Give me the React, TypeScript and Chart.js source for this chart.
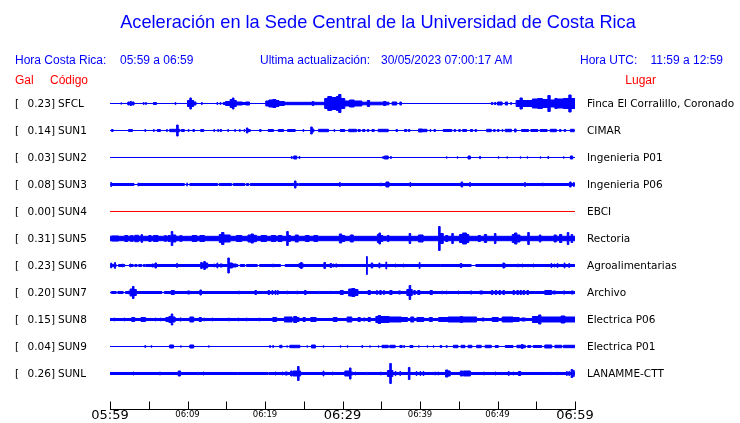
import React, { useEffect, useRef } from 'react';
import { Chart, registerables } from 'chart.js';

Chart.register(...registerables);

const TITLE = 'Aceleración en la Sede Central de la Universidad de Costa Rica';
const HEADER_LOCAL = ['Hora Costa Rica:', '05:59 a 06:59'];
const HEADER_UPDATE = ['Ultima actualización:', '30/05/2023 07:00:17 AM'];
const HEADER_UTC = ['Hora UTC:', '11:59 a 12:59'];
const COLUMN_HEADS = ['Gal', 'Código', 'Lugar'];

const CODES = ['SFCL', 'SUN1', 'SUN2', 'SUN3', 'SUN4', 'SUN5', 'SUN6', 'SUN7', 'SUN8', 'SUN9', 'SUNL'];
const GAL = [0.23, 0.14, 0.03, 0.08, 0.0, 0.31, 0.23, 0.2, 0.15, 0.04, 0.26];
const PLACES = [
  'Finca El Corralillo, Coronado', 'CIMAR', 'Ingenieria P01', 'Ingenieria P06', 'EBCI', 'Rectoria',
  'Agroalimentarias', 'Archivo', 'Electrica P06', 'Electrica P01', 'LANAMME-CTT',
];
// background (noise) half-amplitude of each trace
const BASE_AMP = [0, 0, 0, 1, 0, 2.2, 1, 1, 1, 0, 1];
const TRACE_COLORS = ['#0000ff', '#0000ff', '#0000ff', '#0000ff', '#ff0000', '#0000ff', '#0000ff', '#0000ff', '#0000ff', '#0000ff', '#0000ff'];

// time axis, minutes after 05:59
const T_MIN = 0;
const T_MAX = 60;
const TICK_MINUTES = [0, 5, 10, 15, 20, 25, 30, 35, 40, 45, 50, 55, 60];
const TICK_LABELS = ['05:59', '', '06:09', '', '06:19', '', '06:29', '', '06:39', '', '06:49', '', '06:59'];
const TICK_MAJOR = [true, false, false, false, false, false, true, false, false, false, false, false, true];

// envelope segments [start minute, end minute, half amplitude]
type Seg = [number, number, number];
const SFCL_BURSTS: Seg[] = [[1.4,1.5,0.7],[2.3,2.5,1.5],[2.6,2.8,2],[2.9,3.1,1.5],[4.3,4.4,1],[4.6,4.7,1],[5.6,6.0,1],[8.4,8.5,1],[10.0,10.3,3],[10.3,10.5,5.5],[10.5,10.8,3],[10.8,11.1,1.5],[11.8,11.9,1],[13.8,13.9,1],[14.2,14.3,1],[14.6,14.9,1],[14.9,15.5,2],[15.5,15.8,4],[15.8,16.0,5.5],[16.0,16.3,3],[16.3,17.1,1.5],[17.1,17.5,1],[17.5,18.0,1.5],[20.1,20.5,2.5],[20.5,21.0,3.5],[21.0,21.4,4],[21.4,21.8,3],[21.8,22.5,2],[22.5,26.1,1.2],[26.1,26.3,2],[26.3,27.7,1.2],[27.7,28.1,5],[28.1,28.6,7],[28.6,29.2,6],[29.2,29.5,7],[29.5,29.8,9],[29.8,30.3,5],[30.3,30.9,2.5],[30.9,31.5,3.5],[31.5,32.5,2.5],[32.5,33.2,1.3],[33.2,33.5,3],[33.5,35.3,1.3],[35.3,35.6,2],[35.6,36.0,1.3],[36.4,37.0,1.5],[37.4,37.6,1.5],[49.2,49.4,1],[49.6,49.8,1],[50.0,50.6,1.5],[51.0,51.3,1.5],[51.7,51.8,1],[52.4,52.9,3],[52.9,53.2,5.5],[53.2,54.5,3],[54.5,55.2,4.5],[55.2,55.8,5],[55.8,56.5,4],[56.5,56.8,8],[56.8,57.4,3.5],[57.4,57.7,5],[57.7,58.5,4.5],[58.5,59.2,5],[59.2,59.5,8.5],[59.5,60,5]];
const SUN1_BURSTS: Seg[] = [[0.2,0.4,1],[2.4,2.9,1],[4.5,4.6,1],[5.6,5.7,1],[6.1,6.5,1],[7.3,7.4,1],[7.7,8.6,1.2],[8.6,8.8,5.5],[8.8,9.0,1.2],[9.2,9.6,1],[10.1,10.2,1],[10.7,10.9,1],[11.7,12.1,1],[13.4,13.5,1],[13.9,14.0,1],[14.2,14.4,1],[15.2,15.3,1],[16.1,16.2,1],[16.7,16.8,1],[17.3,17.4,1],[17.6,17.8,2.5],[17.8,18.1,1],[19.3,19.5,1],[20.4,21.1,1],[21.7,22.4,1],[22.9,23.9,1],[24.9,25.0,1],[25.9,26.1,3.5],[26.1,26.3,1.5],[26.9,28.2,1.2],[28.9,29.0,1],[29.7,30.3,1],[30.8,31.8,1.2],[32.0,32.3,1],[32.6,32.9,1],[33.2,33.4,1],[33.8,34.1,1],[34.6,35.9,1.2],[36.9,37.1,1],[38.0,38.3,1],[38.5,38.7,1],[39.8,40.3,1.5],[40.3,40.9,1.2],[41.3,41.4,1],[41.8,42.0,1],[43.0,44.1,1],[44.4,44.6,1],[45.0,45.2,1],[45.5,46.0,1],[46.5,46.8,1],[47.1,47.3,1],[48.6,49.2,1.2],[49.5,49.7,1],[50.0,50.2,1],[50.6,50.7,1],[51.0,51.8,1.2],[52.2,52.4,1.5],[53.1,54.0,1],[54.3,55.2,1],[55.5,56.4,1],[56.8,57.6,1.2],[58.0,58.2,1],[58.6,58.8,1],[59.4,59.9,1.2]];
const SUN2_BURSTS: Seg[] = [[23.4,23.5,1],[23.7,24.1,1.5],[24.4,24.5,1],[35.2,35.3,1],[35.4,35.9,1.5],[36.2,36.3,1],[43.4,43.5,0.7],[44.8,44.9,0.7],[46.2,46.5,1.5],[47.7,47.8,1.2],[50.1,50.2,0.7],[51.2,51.3,0.7],[52.9,53.0,0.7],[53.8,53.9,0.7],[55.5,55.6,0.7],[56.5,56.6,1],[58.5,58.6,0.7],[59.4,59.7,1.5]];
const SUN3_BURSTS: Seg[] = [[0,0.1,0],[0.1,0.2,2],[3.1,3.6,0],[3.6,3.7,1.5],[9.6,9.9,0],[9.9,10.0,1.5],[10.0,10.3,0],[13.9,14.1,0],[15.7,15.9,0],[17.4,17.6,0],[17.9,18.1,0],[23.8,24.0,3.5],[24.3,24.4,0],[29.6,29.7,2],[34.9,35.0,1.5],[35.6,36.0,2.5],[38.7,38.8,2],[45.3,45.5,2.5],[46.4,46.5,2],[53.5,53.6,2],[55.8,55.9,1.5],[59.3,59.5,2.5],[59.8,59.9,2]];
const SUN4_BURSTS: Seg[] = [];
const SUN5_BURSTS: Seg[] = [[0.2,1.1,2.6],[1.9,2.3,3],[2.6,3.0,2.8],[3.2,3.7,3.2],[4.0,4.2,3.8],[5.0,5.3,3],[5.6,6.2,3],[7.0,7.3,2.8],[7.5,7.8,3],[7.9,8.1,7],[8.1,8.5,3.5],[9.0,9.3,2.8],[10.6,11.2,3],[11.6,12.2,3],[14.1,14.4,4],[14.4,14.7,6],[14.7,15.5,3.5],[16.3,17.0,3],[17.8,18.2,3.5],[18.2,18.5,4.5],[18.5,18.9,3.2],[19.5,20.2,3],[20.8,21.4,3],[21.7,22.2,3],[22.8,23.0,7],[23.0,23.3,3],[23.9,24.3,3.5],[25.2,25.7,3],[26.3,26.8,3],[29.6,29.9,4.5],[29.9,30.3,3],[31.0,31.4,3.5],[34.5,34.7,4],[34.7,34.9,5.5],[34.9,35.2,3],[35.8,36.0,3],[38.6,38.8,5],[39.8,40.4,3.5],[42.4,42.6,12],[42.6,43.0,5],[43.3,43.6,3],[44.1,44.3,5],[45.1,45.5,4],[45.5,46.0,5.5],[46.0,46.3,4],[47.5,47.8,3],[48.3,48.6,4],[49.6,49.8,5],[51.9,52.2,4],[52.2,52.5,5.5],[52.5,52.9,3.5],[53.9,54.1,6],[55.4,55.6,3.5],[57.3,57.6,3.5],[58.0,58.3,4],[59.0,59.2,6],[59.5,59.7,4]];
const SUN6_BURSTS: Seg[] = [[0.1,0.2,2.5],[0.2,0.6,1.2],[0.6,0.7,3],[0.8,1.1,0],[1.6,1.7,1.5],[1.9,2.5,0],[2.6,2.7,1.5],[3.0,3.2,0],[3.5,3.7,0],[4.1,4.3,0],[4.5,4.6,0],[5.4,5.6,1.5],[5.8,6.0,2.5],[8.6,8.7,2],[11.7,11.9,3],[11.9,12.1,2],[12.1,12.3,4],[12.3,12.6,2.5],[13.4,13.5,1.5],[13.8,13.9,2.5],[14.2,14.5,1.5],[15.2,15.4,7.5],[15.4,15.8,2.5],[15.8,16.3,1.5],[16.5,16.8,0],[17.4,17.6,0],[19.0,19.3,0],[21.0,21.1,1.5],[22.0,22.6,0],[24.4,24.6,2],[24.6,24.8,3],[24.8,25.0,1.5],[27.6,27.8,3],[28.4,28.6,2],[28.8,28.9,1.5],[29.1,29.3,1.5],[33.1,33.2,9],[33.7,33.9,2.5],[34.7,34.8,2.5],[34.9,35.0,1.5],[35.6,35.7,3.5],[36.8,36.9,1.5],[37.8,37.9,1.5],[39.9,40.0,3],[42.6,42.7,1],[45.2,45.4,2],[46.6,47.2,0],[50.7,50.9,2.5],[51.0,51.1,1.5],[52.6,52.7,1.5],[53.2,53.3,1.5],[54.6,54.7,1.5],[56.9,57.0,2],[57.3,57.4,1.5],[57.7,57.8,2],[58.6,58.7,2.5],[59.2,59.3,2]];
const SUN7_BURSTS: Seg[] = [[0,0.2,0],[0.8,1.0,0],[1.7,2.0,0],[2.4,2.6,1.5],[2.6,2.9,3.5],[2.9,3.1,6],[3.1,3.4,3],[6.7,7.0,0],[7.9,8.3,2],[10.0,10.3,1.5],[11.6,11.8,2.5],[16.6,16.7,1.5],[18.7,18.9,2],[20.4,20.6,2],[20.9,21.0,2],[21.3,21.4,2],[21.6,21.7,2],[22.8,22.9,1.5],[24.1,24.2,1.5],[25.1,25.3,2],[26.9,27.0,1.2],[28.4,28.5,1.2],[29.7,30.1,2],[30.8,31.2,3.5],[31.2,31.6,4],[31.6,32.0,3],[33.3,33.6,2],[34.4,34.5,2],[34.8,35.0,2],[35.3,35.4,2],[36.1,36.4,2],[37.2,37.5,1.5],[38.3,38.6,3],[38.6,38.8,7],[38.8,39.0,3],[39.2,39.4,2],[39.7,40.0,2],[41.3,41.6,2],[42.8,42.9,1.5],[43.4,43.5,1.5],[44.9,45.0,1.5],[46.5,46.7,1.5],[47.7,48.1,1.5],[49.2,49.4,2],[49.7,49.9,2],[50.2,50.4,2],[50.7,50.9,2],[52.0,52.2,2],[52.5,52.7,2],[52.9,53.1,2],[53.3,53.5,2],[53.8,54.0,2],[56.1,57.0,2],[57.2,57.5,1.5],[58.5,58.7,1.5],[59.5,59.8,1.5]];
const SUN8_BURSTS: Seg[] = [[0.5,0.6,1.5],[1.8,1.9,1.5],[2.8,3.2,2],[4.0,4.6,2],[5.8,5.9,1.5],[6.5,6.6,1.5],[7.2,7.6,2],[7.6,7.9,3],[7.9,8.1,5.5],[8.1,8.4,2.5],[9.0,9.2,1.5],[10.3,10.8,2.5],[11.5,11.8,2],[12.1,12.2,1.5],[13.2,13.3,1.5],[15.3,15.4,1.5],[16.5,16.6,1.5],[17.6,17.7,1.5],[19.2,19.3,1.5],[21.0,21.5,2],[22.5,23.5,2.5],[23.7,24.1,3],[24.1,24.4,2],[24.9,25.2,2],[25.9,26.6,2],[28.8,29.3,2],[30.6,31.2,2.5],[32.0,32.3,2],[32.7,32.9,1.5],[33.3,33.6,2],[34.3,34.6,3],[34.6,34.9,4],[34.9,36.0,3],[36.0,37.6,2.5],[37.6,38.4,2],[38.8,39.2,2.5],[39.6,40.5,2],[41.2,41.6,2],[42.4,43.6,2],[43.6,45.2,2.5],[45.2,45.5,3],[45.5,47.3,2.5],[48.0,48.3,1.5],[49.3,50.1,2],[50.6,52.0,2.5],[52.0,52.8,2],[53.1,53.6,1.5],[54.5,55.3,3],[55.3,55.6,4.5],[55.6,57.8,2.5],[57.8,58.2,2.5],[58.2,58.7,3.5],[58.7,60,2.5]];
const SUN9_BURSTS: Seg[] = [[4.5,4.6,1],[5.3,5.4,0.8],[7.7,8.2,1.5],[9.1,9.2,0.7],[10.3,10.8,1.5],[12.7,12.8,0.7],[20.6,20.7,1],[21.0,21.1,1],[21.9,22.2,1.2],[22.8,22.9,0.7],[23.2,24.5,1.2],[25.4,25.5,0.7],[26.0,26.5,1.5],[27.5,27.6,0.7],[29.7,29.8,0.7],[30.6,30.7,0.7],[32.5,32.6,1],[33.5,33.6,0.7],[34.6,34.7,0.7],[35.1,35.9,1.2],[36.1,36.8,1.2],[37.4,37.7,1],[37.9,38.0,1],[38.7,39.1,1],[39.8,39.9,0.7],[40.9,41.0,0.7],[41.7,41.8,0.7],[42.6,42.8,1],[43.4,43.5,1],[44.3,44.9,1.2],[45.3,45.8,1.2],[46.2,46.7,1.2],[47.3,47.9,1.2],[48.4,49.2,1.2],[49.7,50.1,1],[51.0,52.0,1],[52.5,53.1,1.2],[53.1,53.3,2],[53.3,53.6,1.2],[53.9,54.3,1],[54.6,55.7,1],[56.1,57.0,1.5],[57.4,58.3,1.2],[58.5,60,1.2]];
const SUNL_BURSTS: Seg[] = [[3.0,3.1,1.5],[6.4,6.5,1.5],[8.8,9.1,2.5],[11.3,11.4,1.2],[12.0,12.1,1.5],[16.4,16.5,1],[20.4,20.5,0],[21.3,21.4,1.5],[22.2,22.3,1.5],[22.6,22.9,1.5],[23.3,23.5,2.5],[23.6,24.2,2.5],[24.2,24.4,7],[24.4,24.6,2.5],[27.5,27.6,2.5],[28.7,28.8,1.5],[30.3,30.9,2.5],[30.9,31.1,5.5],[31.1,31.3,1.5],[31.6,31.7,1.5],[33.1,33.2,1.2],[34.9,35.0,1.5],[35.8,36.1,3],[36.1,36.3,10],[36.3,36.5,3],[36.8,36.9,2],[37.4,37.5,2],[38.5,38.7,6],[39.5,39.6,2],[40.0,40.1,2],[40.4,40.5,2],[41.9,42.0,1.5],[42.3,42.4,1.5],[43.3,43.6,3.5],[43.6,43.9,2.5],[45.2,45.5,2.5],[45.6,46.5,2.5],[48.2,48.3,1.5],[49.7,49.8,1.5],[50.5,50.6,1.2],[51.4,51.5,2],[52.0,52.1,1.5],[52.7,53.0,2],[56.8,56.9,1.2],[57.7,57.8,1.2],[58.9,59.0,2],[59.2,59.3,2],[59.5,59.7,4],[59.8,59.9,3]];

const BURSTS: Seg[][] = [SFCL_BURSTS, SUN1_BURSTS, SUN2_BURSTS, SUN3_BURSTS, SUN4_BURSTS, SUN5_BURSTS, SUN6_BURSTS, SUN7_BURSTS, SUN8_BURSTS, SUN9_BURSTS, SUNL_BURSTS];

const AMP_UNIT = 1 / 27; // envelope amplitude unit expressed in row units
const BLUE = '#0000ff';
const RED = '#ff0000';

function envelope(base: number, bursts: Seg[]) {
  const pts: { t: number; a: number }[] = [{ t: T_MIN, a: base }];
  for (const [t0, t1, a] of bursts) {
    pts.push({ t: t0, a });
    pts.push({ t: t1, a: base });
  }
  pts.push({ t: T_MAX, a: base });
  return pts;
}

const textPlugin = {
  id: 'seismoText',
  afterDraw(chart: any) {
    const { ctx, chartArea } = chart;
    const xs = chart.scales.x;
    const ys = chart.scales.y;
    ctx.save();
    ctx.textBaseline = 'middle';
    // title
    ctx.fillStyle = BLUE;
    ctx.font = '18.2px "Liberation Sans", Arial, sans-serif';
    ctx.textAlign = 'center';
    ctx.fillText(TITLE, 378, 23);
    // header line
    ctx.font = '12px "Liberation Sans", Arial, sans-serif';
    ctx.textAlign = 'left';
    ctx.fillText(HEADER_LOCAL[0], 15, 61);
    ctx.fillText(HEADER_LOCAL[1], 120, 61);
    ctx.fillText(HEADER_UPDATE[0], 260, 61);
    ctx.fillText(HEADER_UPDATE[1], 381, 61);
    ctx.fillText(HEADER_UTC[0], 580, 61);
    ctx.textAlign = 'right';
    ctx.fillText(HEADER_UTC[1], 723, 61);
    ctx.fillStyle = RED;
    ctx.textAlign = 'left';
    ctx.fillText(COLUMN_HEADS[0], 15, 81);
    ctx.fillText(COLUMN_HEADS[1], 50, 81);
    ctx.textAlign = 'right';
    ctx.fillText(COLUMN_HEADS[2], 656, 81);
    // station labels
    ctx.fillStyle = '#000';
    ctx.font = '10.5px "DejaVu Sans", sans-serif';
    CODES.forEach((code, i) => {
      const yy = ys.getPixelForValue(i) + 0.5;
      ctx.textAlign = 'left';
      ctx.fillText('[', 15, yy);
      ctx.textAlign = 'right';
      ctx.fillText(GAL[i].toFixed(2) + ']', 55, yy);
      ctx.textAlign = 'left';
      ctx.fillText(code, 58, yy);
      ctx.fillText(PLACES[i], 587, yy);
    });
    // time axis
    const axisY = Math.round(chartArea.bottom) + 0.5;
    ctx.strokeStyle = '#000';
    ctx.lineWidth = 1;
    ctx.beginPath();
    ctx.moveTo(Math.round(xs.getPixelForValue(T_MIN)), axisY);
    ctx.lineTo(Math.round(xs.getPixelForValue(T_MAX)) + 1, axisY);
    TICK_MINUTES.forEach((m) => {
      const px = Math.round(xs.getPixelForValue(m)) + 0.5;
      ctx.moveTo(px, axisY - 8);
      ctx.lineTo(px, axisY);
    });
    ctx.stroke();
    ctx.textAlign = 'center';
    TICK_MINUTES.forEach((m, k) => {
      if (!TICK_LABELS[k]) return;
      const px = xs.getPixelForValue(m);
      ctx.font = TICK_MAJOR[k] ? '13px "DejaVu Sans", sans-serif' : '8.5px "DejaVu Sans", sans-serif';
      ctx.fillText(TICK_LABELS[k], px, TICK_MAJOR[k] ? 416 : 415);
    });
    ctx.restore();
  },
};

export default function App() {
  const ref = useRef<HTMLCanvasElement | null>(null);
  useEffect(() => {
    if (!ref.current) return;
    const datasets: any[] = [];
    CODES.forEach((code, i) => {
      const pts = envelope(BASE_AMP[i], BURSTS[i]);
      const color = TRACE_COLORS[i];
      datasets.push({
        label: code + ' +',
        data: pts.map((p) => ({ x: p.t, y: i - p.a * AMP_UNIT })),
        borderColor: color,
        borderWidth: 1,
        pointRadius: 0,
        stepped: true,
        fill: false,
      });
      datasets.push({
        label: code + ' -',
        data: pts.map((p) => ({ x: p.t, y: i + p.a * AMP_UNIT })),
        borderColor: color,
        backgroundColor: color,
        borderWidth: 1,
        pointRadius: 0,
        stepped: true,
        fill: '-1',
      });
    });
    const chart = new Chart(ref.current, {
      type: 'line',
      data: { datasets },
      options: {
        animation: false,
        responsive: false,
        devicePixelRatio: 1,
        layout: { padding: { left: 110, right: 165, top: 90, bottom: 14 } },
        plugins: { legend: { display: false }, tooltip: { enabled: false }, title: { display: false } },
        scales: {
          x: { type: 'linear', min: T_MIN, max: T_MAX, display: false },
          y: { type: 'linear', min: -0.5, max: 11.315, reverse: true, display: false },
        },
      },
      plugins: [textPlugin],
    });
    return () => chart.destroy();
  }, []);
  return (
    <div style={{ position: 'fixed', left: 0, top: 0, width: 740, height: 423, background: '#fff' }}>
      <canvas ref={ref} width={740} height={423} style={{ width: 740, height: 423 }} />
    </div>
  );
}
